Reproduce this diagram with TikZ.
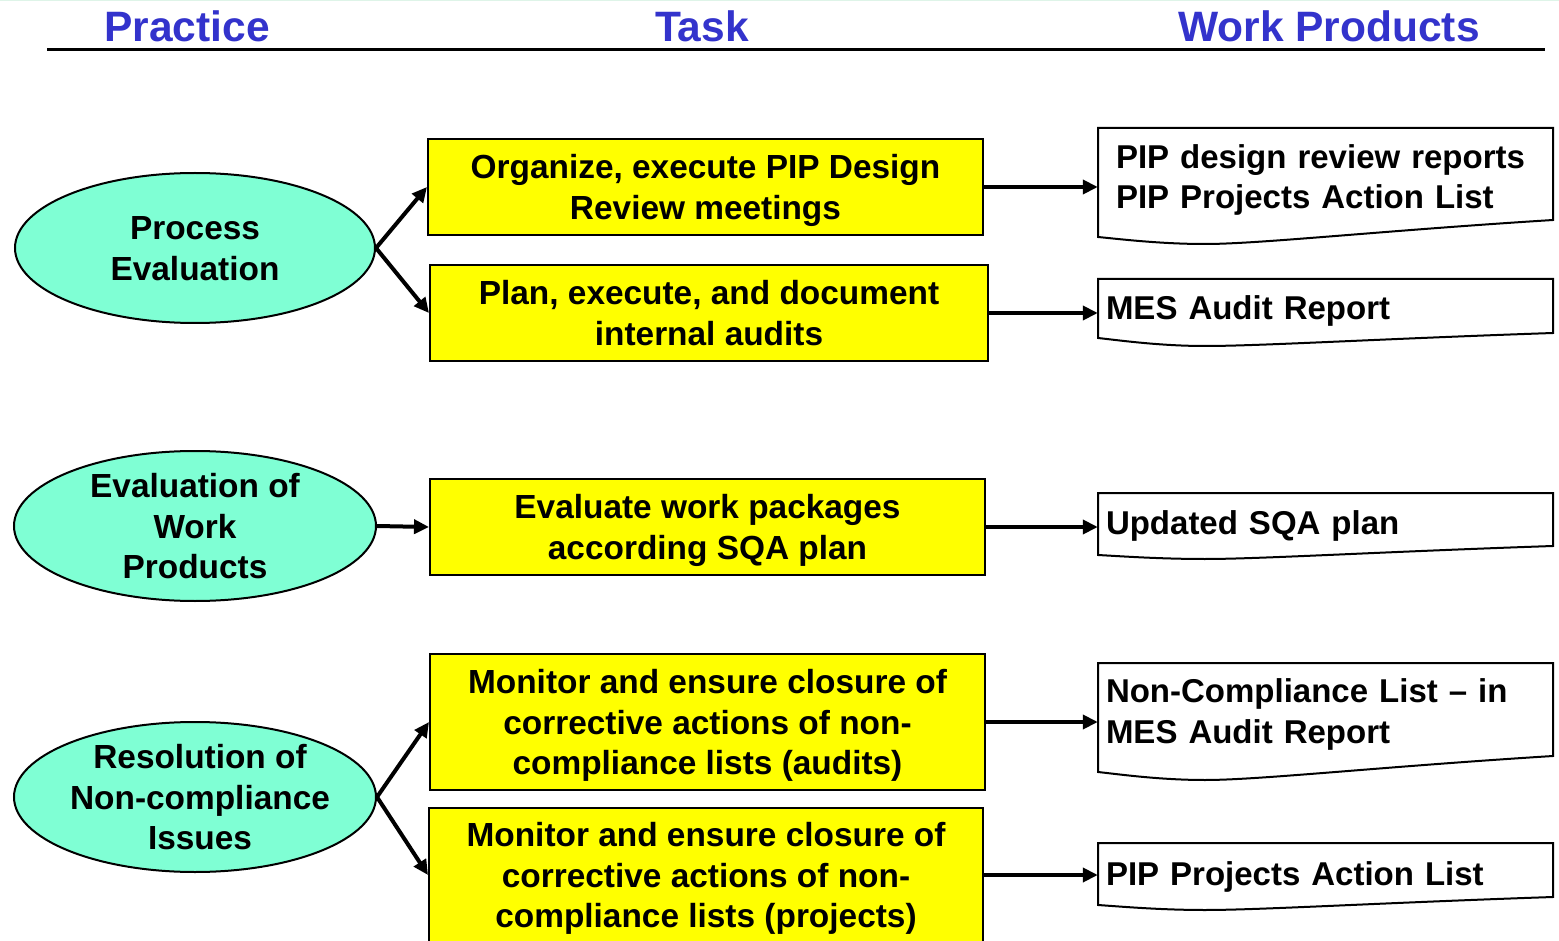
\documentclass[tikz,border=0pt]{standalone}
\usepackage{fontspec}
\setmainfont{Liberation Sans}
\usetikzlibrary{shapes.geometric,arrows.meta}
\definecolor{headblue}{RGB}{51,51,204}
\definecolor{aqua}{RGB}{127,255,212}
\definecolor{taskyellow}{RGB}{255,255,0}
\definecolor{edgemint}{RGB}{222,244,232}
% strut that centres the cap height of a line block on the node centre
\newcommand\cs{\rule[-8pt]{0pt}{40pt}}
% work-product document outline: top edge, right-bottom, left-bottom, lowest point of wave
\newcommand\wpdoc[4]{%
  \draw[doc] (1098,#1) -- (1553,#1) -- (1553,#2)
    .. controls (1380,{#2+0.45*(#4-#2)}) and (1260,#4) .. (1205,#4)
    .. controls (1160,#4) and (1120,{#3+0.3*(#4-#3)}) .. (1098,#3) -- cycle;}
\begin{document}
\begin{tikzpicture}[x=1pt,y=-1pt,
  body/.style={font=\fontsize{33.4}{40.5}\selectfont\bfseries},
  head/.style={font=\fontsize{42.5}{48}\selectfont\bfseries, text=headblue, inner sep=0},
  practice/.style={ellipse, draw, line width=2, fill=aqua,
    minimum width=360, minimum height=150, inner sep=0},
  ptext/.style={body, align=center, inner sep=0},
  task/.style={rectangle, draw, line width=2, fill=taskyellow, body, align=center, inner sep=0},
  prod/.style={font=\fontsize{33}{40.8}\selectfont\bfseries, align=left, inner ysep=0},
  doc/.style={draw, line width=2, fill=white},
  link/.style={line width=4, -{Triangle[length=15,width=14]}},
]
\useasboundingbox (0,0) rectangle (1559,941);
\fill[white] (0,0) rectangle (1559,941);
\fill[edgemint] (0,0) rectangle (1559,1.5);

% column headings
\node[head, anchor=base] (hp) at (187,42) {Practice};
\node[head, anchor=base] (ht) at (702,42) {Task};
\node[head, anchor=base] (hw) at (1329,42) {Work Products};
\draw[line width=3] (47,50) -- (1545,50);

% practices
\node[practice] (p1) at (195,248) {};
\node[ptext] at (p1.center) {\cs Process\\Evaluation\cs};
\node[practice, minimum width=362] (p2) at (195,526) {};
\node[ptext] at (p2.center) {\cs Evaluation of\\Work\\Products\cs};
\node[practice, minimum width=362] (p3) at (195,797) {};
\node[ptext] at ([xshift=5]p3.center) {\cs Resolution of\\Non-compliance\\Issues\cs};

% tasks
\node[task, minimum width=555, minimum height=96] (t1) at (705.5,187)
  {\cs Organize, execute PIP Design\\Review meetings\cs};
\node[task, minimum width=558, minimum height=96] (t2) at (709,313)
  {\cs Plan, execute, and document\\internal audits\cs};
\node[task, minimum width=555, minimum height=96] (t3) at (707.5,527)
  {\cs Evaluate work packages\\according SQA plan\cs};
\node[task, minimum width=555, minimum height=136] (t4) at (707.5,722)
  {\cs Monitor and ensure closure of\\corrective actions of non-\\compliance lists (audits)\cs};
\node[task, minimum width=554, minimum height=134] (t5) at (706,875)
  {\cs Monitor and ensure closure of\\corrective actions of non-\\compliance lists (projects)\cs};

% work products
\wpdoc{128}{220}{237}{244}
\wpdoc{279}{333}{338}{346}
\wpdoc{493}{546}{555}{559}
\wpdoc{663}{756}{772}{780}
\wpdoc{843}{897}{905}{910}
\node[prod, text width=419, inner xsep=18] (d1) at (1325.5,176.5)
  {\cs PIP design review reports\\PIP Projects Action List\cs};
\node[prod, text width=439, inner xsep=8] (d2) at (1325.5,308) {\cs MES Audit Report\cs};
\node[prod, text width=439, inner xsep=8] (d3) at (1325.5,522.5) {\cs Updated SQA plan\cs};
\node[prod, text width=439, inner xsep=8] (d4) at (1325.5,711)
  {\cs Non-Compliance List -- in\\MES Audit Report\cs};
\node[prod, text width=439, inner xsep=8] (d5) at (1325.5,873) {\cs PIP Projects Action List\cs};

% connectors
\draw[link] (p1.east) -- (t1.west);
\draw[link] (p1.east) -- (t2.west);
\draw[link] (p2.east) -- (t3.west);
\draw[link] (p3.east) -- (t4.west);
\draw[link] (p3.east) -- (t5.west);
\draw[link] (t1.east) -- (t1.east -| d1.west);
\draw[link] (t2.east) -- (t2.east -| d2.west);
\draw[link] (t3.east) -- (t3.east -| d3.west);
\draw[link] (t4.east) -- (t4.east -| d4.west);
\draw[link] (t5.east) -- (t5.east -| d5.west);
\end{tikzpicture}
\end{document}
